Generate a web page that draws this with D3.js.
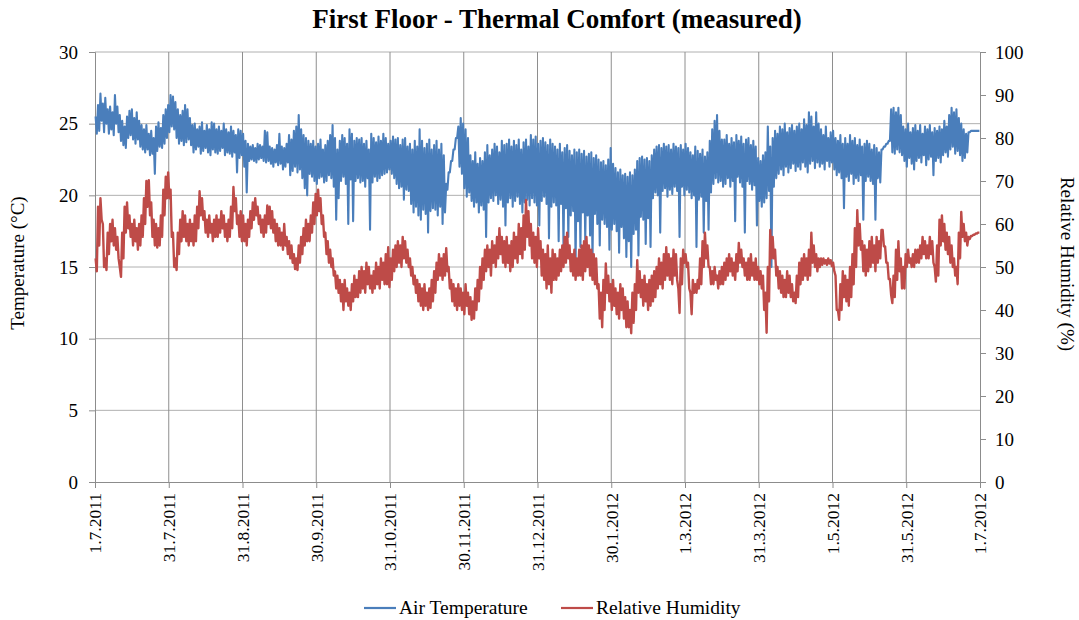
<!DOCTYPE html>
<html>
<head>
<meta charset="utf-8">
<script src="https://cdn.jsdelivr.net/npm/d3@7"></script>
<style>
  html, body { margin: 0; padding: 0; background: #ffffff; }
  svg { display: block; }
  svg text { font-family: "Liberation Serif", "Times New Roman", serif; fill: #000; }
</style>
</head>
<body>
<svg id="chart" width="1079" height="620"></svg>
<script>
// Daily maximum / minimum air temperature (°C), 1.7.2011 – 30.6.2012
const tempHigh = [
  25.5,26.3,27.1,26.4,26.8,26.0,26.2,25.8,27.0,26.2,
  25.6,25.2,24.8,25.5,25.9,26.0,25.4,25.8,25.2,24.9,
  24.6,24.9,24.3,24.5,24.0,24.8,25.1,24.7,25.6,26.0,
  26.3,27.0,26.9,26.5,26.0,25.6,25.9,26.3,26.0,25.4,
  24.9,25.0,24.6,24.8,25.1,24.5,24.9,24.6,25.1,25.0,
  24.6,24.8,24.5,25.0,24.6,24.4,24.8,24.5,24.2,24.6,
  24.5,24.3,23.8,23.6,23.4,23.5,23.3,23.6,23.5,23.4,
  24.5,24.4,23.4,23.3,23.2,23.5,24.3,23.4,23.3,23.6,
  24.2,23.9,24.5,24.8,25.6,24.6,24.2,24.0,23.8,23.6,
  23.8,23.4,23.6,23.9,23.2,23.5,23.8,24.2,24.9,24.0,
  23.2,23.8,24.2,24.0,23.6,24.6,24.3,23.8,24.0,23.9,
  24.0,23.6,23.8,23.2,24.3,24.0,23.7,24.1,23.8,24.3,
  24.0,23.6,23.8,24.1,23.9,24.0,23.5,23.9,24.0,23.4,
  23.6,23.2,23.8,23.4,24.6,23.8,23.3,23.6,23.9,23.2,
  23.5,23.8,23.2,23.6,22.8,20.8,21.6,22.4,23.2,24.0,
  24.8,25.4,25.0,24.6,24.0,22.8,22.4,23.0,22.2,22.6,
  22.4,23.0,23.5,22.8,23.2,23.6,23.4,23.0,23.8,23.5,
  23.6,23.9,23.4,23.8,23.5,23.9,23.2,23.7,23.9,23.4,
  24.2,23.9,24.1,23.6,23.8,24.0,23.7,23.5,23.9,23.6,
  23.4,23.2,23.6,23.0,23.3,23.5,23.1,22.8,23.2,23.0,
  23.2,22.9,23.1,22.7,22.9,23.0,22.6,22.8,22.5,22.3,
  22.4,22.1,22.5,23.3,22.2,21.9,21.6,21.8,21.4,21.5,
  21.3,21.6,21.4,21.8,22.4,22.6,22.7,22.5,22.6,22.4,
  22.8,23.2,23.4,23.5,23.3,23.6,23.4,23.5,23.2,23.6,
  23.4,23.3,23.5,23.2,23.6,23.3,23.0,22.8,23.4,23.1,
  22.9,23.2,22.7,23.0,23.8,24.6,25.2,25.6,24.5,23.9,
  23.9,24.2,23.6,24.0,23.7,24.2,23.8,24.1,23.6,23.9,
  24.0,23.5,23.8,23.4,22.6,22.4,22.8,23.0,24.8,23.4,
  24.0,24.5,24.3,24.8,24.6,25.0,24.4,24.7,24.9,24.5,
  24.8,25.0,24.6,25.3,24.9,25.8,25.5,24.8,25.8,25.0,
  24.6,24.2,24.8,24.0,24.4,24.5,24.0,23.8,24.2,23.6,
  24.0,23.6,24.2,23.8,24.0,23.5,23.9,23.4,23.6,23.8,
  23.6,23.2,23.5,23.3,23.0,23.2,23.4,23.6,23.8,26.0,
  26.1,25.8,26.1,25.6,24.8,24.6,25.0,24.4,24.7,24.9,
  24.5,24.9,24.3,24.8,24.6,24.9,24.4,24.7,24.5,24.8,
  24.6,25.2,24.8,25.6,26.1,25.8,26.0,25.4,25.0,24.6,
  24.3,24.4,24.5,24.5,24.5,24.5
];
const tempLow = [
  24.3,24.5,25.2,24.4,25.0,24.3,24.6,24.2,25.0,24.4,
  23.8,23.5,23.3,24.0,24.2,23.9,23.6,23.9,23.4,23.2,
  23.0,23.2,22.8,22.9,21.5,23.1,23.4,23.3,23.6,24.0,
  24.4,24.8,24.6,24.0,23.6,23.8,23.5,23.7,23.9,23.5,
  23.0,23.2,23.4,22.9,23.1,23.3,23.0,22.8,23.2,23.0,
  22.9,23.1,23.3,22.8,23.0,22.9,22.7,23.0,21.6,22.6,
  22.8,22.0,20.2,22.4,22.5,22.4,22.3,22.5,22.6,22.4,
  22.3,22.4,22.2,22.0,22.3,22.1,22.2,21.8,22.0,22.3,
  21.4,21.7,22.0,21.6,21.8,21.2,20.5,20.0,21.5,21.3,
  21.0,20.8,21.2,21.3,20.9,21.0,21.4,21.2,20.6,18.3,
  19.8,21.0,21.3,20.8,18.0,21.1,18.2,21.0,21.2,20.9,
  21.0,20.6,21.2,17.6,20.9,21.3,21.0,21.2,21.4,21.5,
  21.6,21.8,21.5,21.2,20.8,20.5,20.6,19.7,20.4,20.3,
  19.4,18.8,19.2,18.6,18.3,19.0,18.7,17.4,18.9,19.1,
  19.0,18.6,19.2,18.0,18.8,20.4,21.6,22.4,23.2,24.0,
  22.0,21.5,20.5,19.9,20.2,19.6,19.2,19.5,18.8,19.3,
  19.0,17.1,19.5,19.8,19.6,20.0,19.4,19.7,19.2,17.9,
  19.5,19.8,19.2,19.6,19.9,19.4,18.8,19.5,19.7,19.3,
  19.8,19.5,19.3,17.9,19.6,19.9,19.4,17.0,19.2,19.5,
  19.3,16.8,19.4,16.5,19.1,17.1,18.6,18.9,15.3,18.2,
  16.4,18.8,16.9,18.6,17.2,15.5,18.7,18.0,16.5,18.3,
  18.0,17.8,16.2,17.6,18.0,17.5,16.0,17.8,17.0,15.7,
  16.8,15.0,17.3,17.6,15.8,18.5,18.3,16.6,18.4,16.4,
  19.8,20.2,20.0,17.4,20.3,20.5,19.9,20.4,20.1,20.6,
  20.3,17.1,20.6,20.0,20.4,20.2,19.8,20.0,16.4,19.7,
  19.9,17.4,19.6,17.6,20.2,20.8,21.2,20.9,21.0,20.6,
  20.8,21.2,20.6,21.0,18.2,21.3,20.9,20.6,17.4,21.0,
  20.8,20.4,20.7,17.9,19.6,19.2,19.5,19.8,20.3,15.0,
  20.6,21.2,21.5,21.8,21.4,22.0,21.6,21.9,22.2,21.7,
  22.0,21.8,22.3,22.0,21.6,22.2,22.4,21.9,22.3,22.0,
  22.2,21.8,22.4,22.0,22.3,21.8,21.4,21.6,21.2,19.1,
  21.3,21.0,21.5,20.8,21.2,21.0,21.4,18.3,21.0,21.3,
  21.0,20.8,18.3,21.2,20.9,23.2,23.4,23.6,23.8,23.0,
  22.9,23.2,23.0,22.8,22.4,22.0,22.6,22.2,21.8,22.4,
  22.6,22.3,22.8,22.1,22.5,22.7,21.4,22.4,22.6,22.3,
  22.8,23.0,22.7,23.2,23.4,22.9,23.1,22.8,22.4,22.6,
  23.0,24.4,24.5,24.5,24.5,24.5
];
// Daily maximum / minimum relative humidity (%)
const rhHigh = [
  52,64,66,60,52,58,60,61,59,57,
  50,58,64,65,62,60,61,59,60,62,
  66,70,70.2,65,61,60,59,62,68,71,
  72,68,58,52,58,61,63,62,60,61,
  60,62,64,67.6,66,63,61,62,60,61,
  62,61,63,62,60,61,64,68.6,66,62,
  63,62,60,61,63,65,66,64,62,61,
  62,64.3,64,63,61,60,59,58,60,57,
  56,55,53,52,55,57,59,61,60,62,
  65,67,68,66,62,58,56,54,52,49,
  48,47,46,47,45,44,46,48,47,49,
  50,49,51,50,48,49,51,50,52,51,
  53,54.6,52,54,55,56,55,57,56,54,
  52,50,48,47,46,45,46,44,45,47,
  49,51,53,52,53,54.4,50,47,46,45,
  46,45,44,46,44,43,42,45,47,50,
  52,54,55,54,56,55,57,59,57,56,
  57,55,56,58,57,60,59,62,65.6,63,
  60,58,57,59,56,54,53,55,52,54,
  53,52,54,55,57,58,55,53,54,52,
  54,55,56,57,55,54,53,52,46,44,
  47,50.8,48,46,47,45,44,46,45,43,
  42,40,44,46,51.6,49,47,48,46,47,
  48,49,50,52,51,53,54.6,53,52,54,
  53,45,52,54,53,51,44,47,46,47,
  52,56,58,55,50,49,50,48,49,50,
  51,52,53,52,51,53,55.6,54,52,51,
  52,53,51,52,50,49,48,44,50,58.6,
  57,54,50,49,48,47,49,48,46,44,
  48,51,52,53,52,54,58,55,53,52,
  52,52,51.6,52,51.6,51,48,40,46,49,
  48,47,50,53,59,63.2,60,56,55,54,
  56,57,55,57,56,58.6,54.8,51,47.2,43.5,
  48,54,56,52,50,53,54,52,53,54,
  54,55,57,56,55,57,56,50,55,61,
  62,60,58,57,55,52,50,58,62.8,60,
  58,57,57.2,57.5,57.8,58
];
const rhLow = [
  49,55,61,50,49.3,53,56,55,54,52,
  47.7,52,58,59,57,55,56,54,55,57,
  60,64,62,57,55,54.5,55,57,62,66,
  66,57,50,49.3,53,56,57,56,55,56,
  55,56,59,62,61,58,57,58,56,57,
  57,58,59,57,56,57,59,63,60,57,
  56,56,55,57,59,61,62,60,58,57,
  58,60,59,58,56,55,55,54,55,53,
  52,51,49.5,49.3,51,53,55,56,56,58,
  60,62,63,60,57,53,51,50,48,45,
  44,42,40,42,41,40,42,43,43,44,
  45,44,46,45,44,45,46,45,47,46,
  46,45.3,47,49,50,51,50,52,51,50,
  48,46,44,42,41,40,41,40,40.5,42,
  44,47,48,47,48,49,45,42,41,40,
  41,40,39,41,39,37.7,38,40,42,45,
  47,49,50,48,51,50,52,53,51,50,
  51,49,50,52,51,53,52,54,57,55,
  52,51,50,52,48,47,45,46,44,47,
  47,48,49,50,51,52,49,48,47,48,
  48,47,49,50,48,47,46,45,38,36,
  40,44,42,40,41,39,38,40,38,36,
  36,34.6,37,40,44,43,41,42,40,41,
  42,43,45,46,45,47,48,47,46,48,
  47,39.3,46,51,50,45,39,44,44,45,
  46,50,52,50,46,46,47,45,46,46,
  47,48,49,48,47,49,51,50,48,47,
  47,48,47,47,46,45,40,34.7,42,52,
  52,48,45,44,43,43,44,43,42,41.6,
  43,46,47,48,47,48,51,50,49,50,
  50.5,50.8,50.5,50.8,50.2,49,40,37.7,40,43,
  42,41,43,46,50,55,54,49,48,49,
  50,51,49,51,52,58.6,54.8,51,47.2,41.6,
  43,47,49,45,45,50,51,50,50,51,
  51,52,53,52,52,53,51,46.6,48,55,
  56,54,53,51,50,48,46,52,57,56,
  55,56.5,57.2,57.5,57.8,58
];

// Axis ticks and labels
const dateLabels = ["1.7.2011","31.7.2011","31.8.2011","30.9.2011","31.10.2011","30.11.2011",
  "31.12.2011","30.1.2012","1.3.2012","31.3.2012","1.5.2012","31.5.2012","1.7.2012"];
const tickStepDays = 30.5;
const tempTicks = [0, 5, 10, 15, 20, 25, 30];
const rhTicks = [0, 10, 20, 30, 40, 50, 60, 70, 80, 90, 100];
const seriesNames = ["Air Temperature", "Relative Humidity"];
const seriesColors = ["#4a7ebb", "#be4b48"];

const svg = d3.select("#chart");
const plot = { left: 95, right: 980, top: 52, bottom: 482 };
const serif = "'Liberation Serif', 'Times New Roman', serif";

const x = d3.scaleLinear().domain([0, 366]).range([plot.left, plot.right]);
const yT = d3.scaleLinear().domain([0, 30]).range([plot.bottom, plot.top]);
const yH = d3.scaleLinear().domain([0, 100]).range([plot.bottom, plot.top]);

const dateTicks = dateLabels.map((_, i) => i * tickStepDays);

// Gridlines
svg.append("g")
  .selectAll("line")
  .data(tempTicks.filter(t => t > 0))
  .join("line")
  .attr("x1", plot.left).attr("x2", plot.right)
  .attr("y1", d => yT(d)).attr("y2", d => yT(d))
  .attr("stroke", "#b0b0b0").attr("stroke-width", 1);

svg.append("g")
  .selectAll("line")
  .data(dateTicks.slice(1, -1))
  .join("line")
  .attr("x1", d => x(d)).attr("x2", d => x(d))
  .attr("y1", plot.top).attr("y2", plot.bottom)
  .attr("stroke", "#8e8e8e").attr("stroke-width", 1);

// Axes
const axisColor = "#8c8c8c";
const leftAxis = svg.append("g")
  .attr("transform", `translate(${plot.left},0)`)
  .call(d3.axisLeft(yT).tickValues(tempTicks).tickSize(6).tickPadding(11).tickFormat(d3.format("d")));
const rightAxis = svg.append("g")
  .attr("transform", `translate(${plot.right},0)`)
  .call(d3.axisRight(yH).tickValues(rhTicks).tickSize(6).tickPadding(9).tickFormat(d3.format("d")));
const bottomAxis = svg.append("g")
  .attr("transform", `translate(0,${plot.bottom})`)
  .call(d3.axisBottom(x).tickValues(dateTicks).tickSize(6).tickFormat((d, i) => dateLabels[i]));

[leftAxis, rightAxis, bottomAxis].forEach(g => {
  g.attr("font-family", serif);
  g.select(".domain").attr("stroke", axisColor).attr("stroke-width", 1);
  g.selectAll(".tick line").attr("stroke", axisColor);
  g.selectAll("text").attr("fill", "#000").style("font-family", serif).style("font-size", "19px");
});
bottomAxis.selectAll(".tick text")
  .style("font-size", "17.5px")
  .attr("text-anchor", "end")
  .attr("transform", "rotate(-90)")
  .attr("x", -11)
  .attr("y", 0)
  .attr("dy", "0.33em");

// Series lines: daily high and low joined into one trace
function trace(highs, lows) {
  const pts = [];
  highs.forEach((h, i) => {
    pts.push([i + 0.25, h]);
    pts.push([i + 0.75, lows[i]]);
  });
  return pts;
}

svg.append("path")
  .datum(trace(tempHigh, tempLow))
  .attr("fill", "none")
  .attr("stroke", seriesColors[0])
  .attr("stroke-width", 2.1)
  .attr("stroke-linejoin", "round")
  .attr("d", d3.line().x(d => x(d[0])).y(d => yT(d[1])));

svg.append("path")
  .datum(trace(rhHigh, rhLow))
  .attr("fill", "none")
  .attr("stroke", seriesColors[1])
  .attr("stroke-width", 2.4)
  .attr("stroke-linejoin", "round")
  .attr("d", d3.line().x(d => x(d[0])).y(d => yH(d[1])));

// Title and axis titles
svg.append("text")
  .attr("x", 557).attr("y", 28)
  .attr("text-anchor", "middle")
  .style("font-family", serif)
  .style("font-size", "27px").style("font-weight", "bold")
  .text("First Floor - Thermal Comfort (measured)");

svg.append("text")
  .attr("transform", `translate(24,${(plot.top + plot.bottom) / 2 - 4}) rotate(-90)`)
  .attr("text-anchor", "middle")
  .style("font-family", serif)
  .style("font-size", "19px")
  .text("Temperature (°C)");

svg.append("text")
  .attr("transform", `translate(1061,${(plot.top + plot.bottom) / 2 - 3}) rotate(90)`)
  .attr("text-anchor", "middle")
  .style("font-family", serif)
  .style("font-size", "19px")
  .text("Relative Humidity (%)");

// Legend
const legendItems = [
  { x: 364, name: seriesNames[0], color: seriesColors[0] },
  { x: 561, name: seriesNames[1], color: seriesColors[1] }
];
const lg = svg.append("g");
legendItems.forEach(item => {
  lg.append("line")
    .attr("x1", item.x).attr("x2", item.x + 32)
    .attr("y1", 608).attr("y2", 608)
    .attr("stroke", item.color).attr("stroke-width", 2.2);
  lg.append("text")
    .attr("x", item.x + 35).attr("y", 614)
    .style("font-family", serif)
    .style("font-size", "19.5px")
    .text(item.name);
});
</script>
</body>
</html>
